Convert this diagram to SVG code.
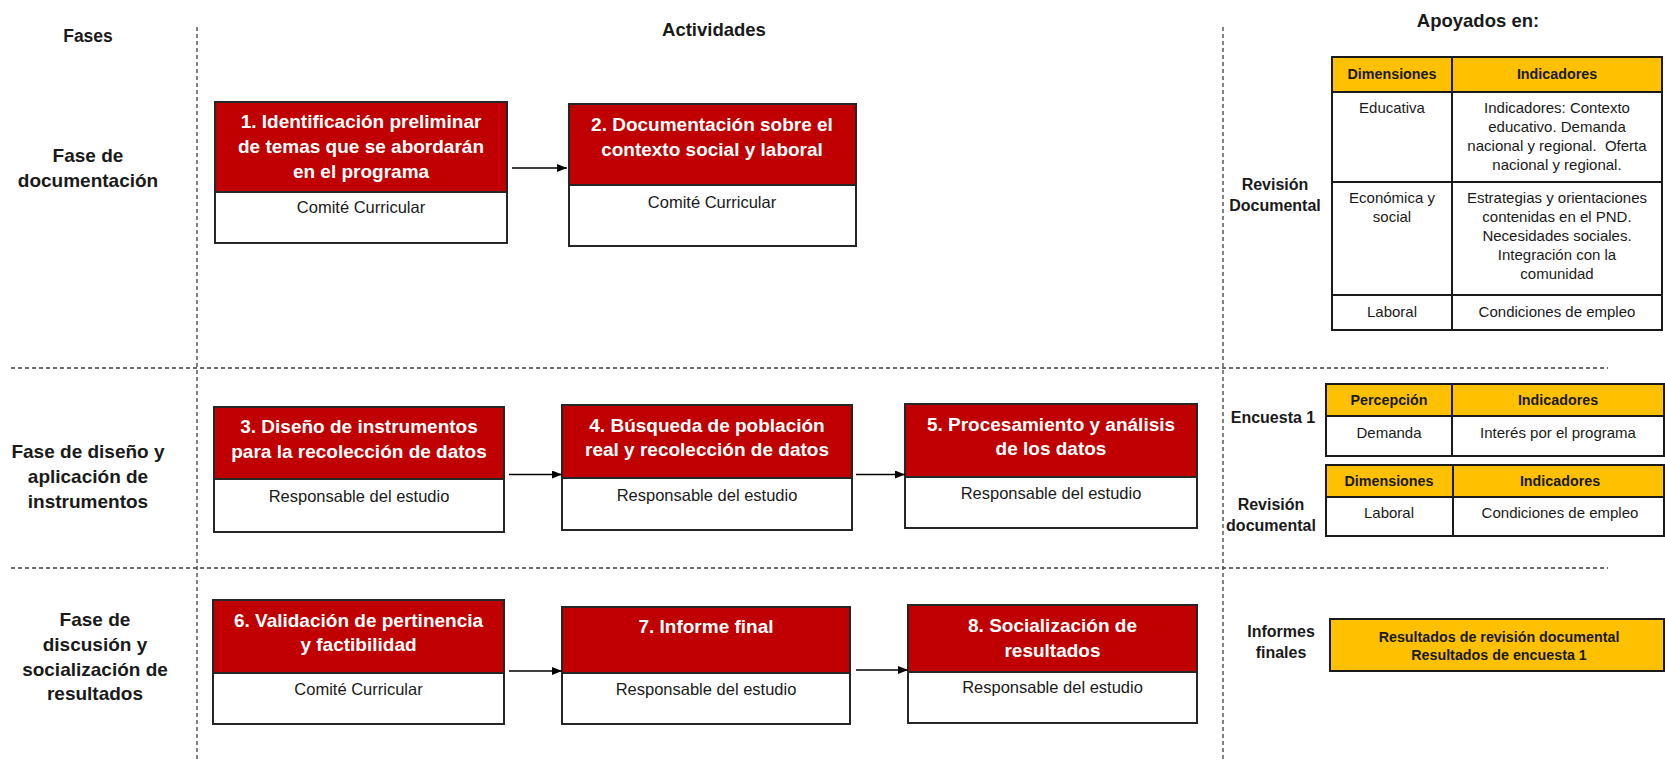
<svg xmlns="http://www.w3.org/2000/svg" width="1665" height="760" viewBox="0 0 1665 760">
<defs>
<style>
.dash{stroke:#404040;stroke-width:1.3;stroke-dasharray:4 3;fill:none}
.red{fill:#C00000;stroke:#262626;stroke-width:2}
.white{fill:#fff;stroke:#262626;stroke-width:2}
.yel{fill:#FFC000;stroke:#1a1a1a;stroke-width:2}
.cell{fill:#fff;stroke:#1a1a1a;stroke-width:2}
.conn{stroke:#000;stroke-width:1.3;fill:none;marker-end:url(#arr)}
text{font-family:"Liberation Sans",Arial,sans-serif;text-anchor:middle;fill:#1a1a1a}
.ttl{font-weight:bold;font-size:19px;fill:#fff}
.sub{font-size:16.5px}
.phase{font-weight:bold;font-size:19px}
.hdr{font-weight:bold;font-size:18.5px}
.lbl{font-weight:bold;font-size:16px}
.th{font-weight:bold;font-size:14.3px}
.td{font-size:15px}
</style>
<marker id="arr" markerWidth="10" markerHeight="8" refX="10" refY="4" orient="auto" markerUnits="userSpaceOnUse"><path d="M0,0 L10,4 L0,8 z" fill="#000"/></marker>
</defs>
<rect width="1665" height="760" fill="#fff"/>

<g id="grid">
<line class="dash" x1="197" y1="27" x2="197" y2="760"/>
<line class="dash" x1="1223" y1="27" x2="1223" y2="760"/>
<line class="dash" x1="11" y1="368" x2="1608" y2="368"/>
<line class="dash" x1="11" y1="568" x2="1608" y2="568"/>
</g>

<g id="headers">
<text class="hdr" x="88" y="42" style="font-size:17.5px">Fases</text>
<text class="hdr" x="714" y="36">Actividades</text>
<text class="hdr" x="1478" y="27">Apoyados en:</text>
</g>

<g id="phase1"><text class="phase" x="88" y="162">Fase de</text><text class="phase" x="88" y="187">documentación</text></g>
<g id="phase2"><text class="phase" x="88" y="458">Fase de diseño y</text><text class="phase" x="88" y="483">aplicación de</text><text class="phase" x="88" y="508">instrumentos</text></g>
<g id="phase3"><text class="phase" x="95" y="626">Fase de</text><text class="phase" x="95" y="651">discusión y</text><text class="phase" x="95" y="676">socialización de</text><text class="phase" x="95" y="700">resultados</text></g>

<g id="n1">
<rect class="white" x="215" y="102" width="292" height="141"/>
<rect class="red" x="215" y="102" width="292" height="90"/>
<text class="ttl" x="361" y="128">1. Identificación preliminar</text>
<text class="ttl" x="361" y="153">de temas que se abordarán</text>
<text class="ttl" x="361" y="178">en el programa</text>
<text class="sub" x="361" y="213">Comité Curricular</text>
</g>
<g id="n2">
<rect class="white" x="569" y="104" width="287" height="142"/>
<rect class="red" x="569" y="104" width="287" height="81"/>
<text class="ttl" x="712" y="131">2. Documentación sobre el</text>
<text class="ttl" x="712" y="156">contexto social y laboral</text>
<text class="sub" x="712" y="208">Comité Curricular</text>
</g>
<g id="n3">
<rect class="white" x="214" y="407" width="290" height="125"/>
<rect class="red" x="214" y="407" width="290" height="72"/>
<text class="ttl" x="359" y="433">3. Diseño de instrumentos</text>
<text class="ttl" x="359" y="458">para la recolección de datos</text>
<text class="sub" x="359" y="502">Responsable del estudio</text>
</g>
<g id="n4">
<rect class="white" x="562" y="405" width="290" height="125"/>
<rect class="red" x="562" y="405" width="290" height="73"/>
<text class="ttl" x="707" y="432">4. Búsqueda de población</text>
<text class="ttl" x="707" y="456">real y recolección de datos</text>
<text class="sub" x="707" y="501">Responsable del estudio</text>
</g>
<g id="n5">
<rect class="white" x="905" y="404" width="292" height="124"/>
<rect class="red" x="905" y="404" width="292" height="73"/>
<text class="ttl" x="1051" y="431">5. Procesamiento y análisis</text>
<text class="ttl" x="1051" y="455">de los datos</text>
<text class="sub" x="1051" y="499">Responsable del estudio</text>
</g>
<g id="n6">
<rect class="white" x="213" y="600" width="291" height="124"/>
<rect class="red" x="213" y="600" width="291" height="73"/>
<text class="ttl" x="358.5" y="627">6. Validación de pertinencia</text>
<text class="ttl" x="358.5" y="651">y factibilidad</text>
<text class="sub" x="358.5" y="695">Comité Curricular</text>
</g>
<g id="n7">
<rect class="white" x="562" y="607" width="288" height="117"/>
<rect class="red" x="562" y="607" width="288" height="66"/>
<text class="ttl" x="706" y="633">7. Informe final</text>
<text class="sub" x="706" y="695">Responsable del estudio</text>
</g>
<g id="n8">
<rect class="white" x="908" y="605" width="289" height="118"/>
<rect class="red" x="908" y="605" width="289" height="67"/>
<text class="ttl" x="1052.5" y="632">8. Socialización de</text>
<text class="ttl" x="1052.5" y="657">resultados</text>
<text class="sub" x="1052.5" y="693">Responsable del estudio</text>
</g>

<g id="connectors">
<line class="conn" x1="512" y1="168" x2="567" y2="168"/>
<line class="conn" x1="509" y1="474.5" x2="562" y2="474.5"/>
<line class="conn" x1="856" y1="474.5" x2="905" y2="474.5"/>
<line class="conn" x1="509" y1="671" x2="562" y2="671"/>
<line class="conn" x1="856" y1="670" x2="908" y2="670"/>
</g>

<g id="label-revision1"><text class="lbl" x="1275" y="190">Revisión</text><text class="lbl" x="1275" y="211">Documental</text></g>
<g id="table1">
<rect class="yel" x="1332" y="57" width="120" height="35"/>
<rect class="yel" x="1452" y="57" width="210" height="35"/>
<rect class="cell" x="1332" y="92" width="120" height="90"/>
<rect class="cell" x="1452" y="92" width="210" height="90"/>
<rect class="cell" x="1332" y="182" width="120" height="113"/>
<rect class="cell" x="1452" y="182" width="210" height="113"/>
<rect class="cell" x="1332" y="295" width="120" height="35"/>
<rect class="cell" x="1452" y="295" width="210" height="35"/>
<text class="th" x="1392" y="79">Dimensiones</text>
<text class="th" x="1557" y="79">Indicadores</text>
<text class="td" x="1392" y="113">Educativa</text>
<text class="td" x="1557" y="113">Indicadores: Contexto</text>
<text class="td" x="1557" y="132">educativo. Demanda</text>
<text class="td" x="1557" y="151" xml:space="preserve">nacional y regional.  Oferta</text>
<text class="td" x="1557" y="170">nacional y regional.</text>
<text class="td" x="1392" y="203">Económica y</text>
<text class="td" x="1392" y="222">social</text>
<text class="td" x="1557" y="203">Estrategias y orientaciones</text>
<text class="td" x="1557" y="222">contenidas en el PND.</text>
<text class="td" x="1557" y="241">Necesidades sociales.</text>
<text class="td" x="1557" y="260">Integración con la</text>
<text class="td" x="1557" y="279">comunidad</text>
<text class="td" x="1392" y="317">Laboral</text>
<text class="td" x="1557" y="317">Condiciones de empleo</text>
</g>

<g id="label-encuesta"><text class="lbl" x="1273" y="423">Encuesta 1</text></g>
<g id="table2">
<rect class="yel" x="1326" y="384" width="126" height="32"/>
<rect class="yel" x="1452" y="384" width="212" height="32"/>
<rect class="cell" x="1326" y="416" width="126" height="40"/>
<rect class="cell" x="1452" y="416" width="212" height="40"/>
<text class="th" x="1389" y="405">Percepción</text>
<text class="th" x="1558" y="405">Indicadores</text>
<text class="td" x="1389" y="438">Demanda</text>
<text class="td" x="1558" y="438">Interés por el programa</text>
</g>

<g id="label-revision2"><text class="lbl" x="1271" y="510">Revisión</text><text class="lbl" x="1271" y="531">documental</text></g>
<g id="table3">
<rect class="yel" x="1326" y="465" width="127" height="32"/>
<rect class="yel" x="1453" y="465" width="211" height="32"/>
<rect class="cell" x="1326" y="497" width="127" height="39"/>
<rect class="cell" x="1453" y="497" width="211" height="39"/>
<text class="th" x="1389" y="486">Dimensiones</text>
<text class="th" x="1560" y="486">Indicadores</text>
<text class="td" x="1389" y="518">Laboral</text>
<text class="td" x="1560" y="518">Condiciones de empleo</text>
</g>

<g id="label-informes"><text class="lbl" x="1281" y="637">Informes</text><text class="lbl" x="1281" y="658">finales</text></g>
<g id="informes-box">
<rect class="yel" x="1330" y="619" width="334" height="52"/>
<text class="th" x="1499" y="642">Resultados de revisión documental</text>
<text class="th" x="1499" y="660">Resultados de encuesta 1</text>
</g>
</svg>
